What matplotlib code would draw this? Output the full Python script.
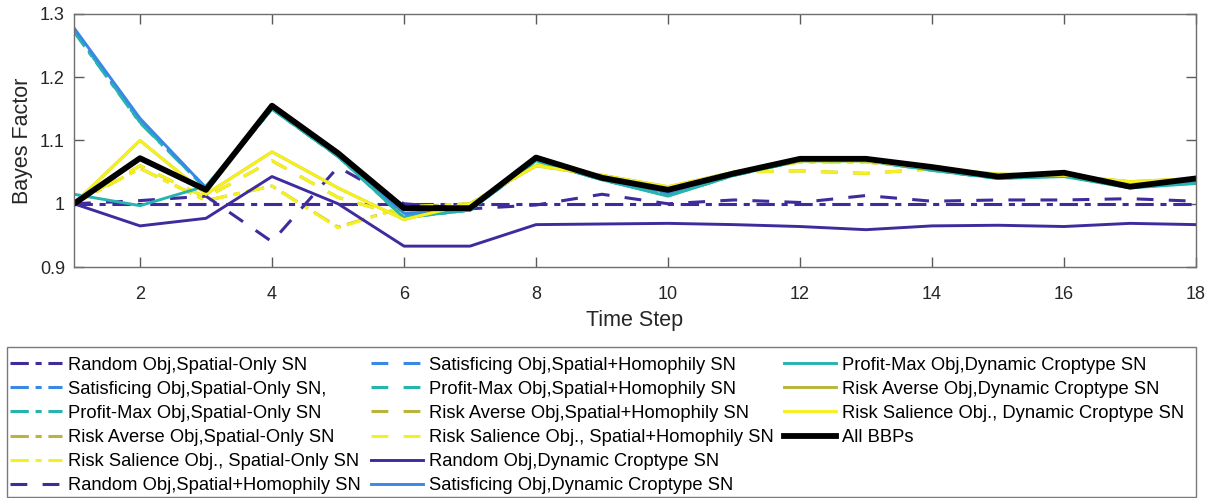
import matplotlib
matplotlib.use('Agg')
import matplotlib.pyplot as plt
from matplotlib.lines import Line2D
from matplotlib.patches import Rectangle
import numpy as np

plt.rcParams['font.family'] = ['Liberation Sans', 'DejaVu Sans']

# time steps
steps = np.arange(1, 19)

# Spatial-Only social network
random_so = [1.000, 1.000, 1.000, 1.000, 1.000, 1.000, 1.000, 1.000, 1.000,
             1.000, 1.000, 1.000, 1.000, 1.000, 1.000, 1.000, 1.000, 1.000]
satisf_so = [1.275, 1.130, 1.025, 1.150, 1.075, 0.980, 0.990, 1.070, 1.040,
             1.015, 1.047, 1.070, 1.070, 1.055, 1.042, 1.046, 1.027, 1.035]
profit_so = [1.272, 1.128, 1.024, 1.150, 1.075, 0.978, 0.990, 1.068, 1.038,
             1.013, 1.045, 1.068, 1.068, 1.053, 1.040, 1.044, 1.026, 1.033]
averse_so = [1.000, 1.056, 1.005, 1.028, 0.963, 0.995, 1.000, 1.060, 1.045,
             1.025, 1.050, 1.066, 1.066, 1.055, 1.045, 1.045, 1.033, 1.040]
salien_so = [1.000, 1.056, 1.005, 1.028, 0.962, 0.995, 1.000, 1.060, 1.045,
             1.025, 1.050, 1.066, 1.066, 1.055, 1.045, 1.045, 1.033, 1.040]

# Spatial+Homophily social network
random_sh = [1.000, 1.005, 1.012, 0.940, 1.058, 1.000, 0.992, 0.998, 1.015,
             1.000, 1.006, 1.002, 1.013, 1.004, 1.006, 1.006, 1.008, 1.004]
satisf_sh = [1.276, 1.132, 1.025, 1.151, 1.076, 0.982, 0.990, 1.070, 1.040,
             1.016, 1.047, 1.070, 1.070, 1.055, 1.042, 1.046, 1.027, 1.036]
profit_sh = [1.273, 1.129, 1.024, 1.150, 1.075, 0.979, 0.990, 1.068, 1.038,
             1.013, 1.045, 1.068, 1.068, 1.053, 1.040, 1.044, 1.026, 1.033]
averse_sh = [1.000, 1.060, 1.010, 1.068, 1.010, 0.980, 1.000, 1.062, 1.043,
             1.024, 1.050, 1.052, 1.048, 1.055, 1.045, 1.046, 1.030, 1.040]
salien_sh = [1.000, 1.060, 1.010, 1.068, 1.010, 0.980, 1.000, 1.062, 1.043,
             1.024, 1.050, 1.052, 1.048, 1.055, 1.045, 1.046, 1.030, 1.040]

# Dynamic Croptype social network
random_dc = [1.000, 0.965, 0.977, 1.043, 1.000, 0.933, 0.933, 0.967, 0.968,
             0.969, 0.967, 0.964, 0.959, 0.965, 0.966, 0.964, 0.969, 0.967]
satisf_dc = [1.278, 1.135, 1.025, 1.152, 1.078, 0.985, 0.990, 1.070, 1.040,
             1.018, 1.047, 1.070, 1.070, 1.056, 1.042, 1.047, 1.027, 1.037]
profit_dc = [1.015, 0.997, 1.028, 1.150, 1.075, 0.978, 0.990, 1.068, 1.038,
             1.012, 1.045, 1.068, 1.068, 1.053, 1.040, 1.043, 1.025, 1.032]
averse_dc = [1.000, 1.100, 1.015, 1.082, 1.025, 0.975, 1.000, 1.060, 1.045,
             1.027, 1.050, 1.068, 1.068, 1.056, 1.047, 1.045, 1.035, 1.040]
salien_dc = [1.000, 1.100, 1.015, 1.082, 1.025, 0.975, 1.000, 1.060, 1.045,
             1.027, 1.050, 1.068, 1.068, 1.056, 1.047, 1.045, 1.035, 1.040]

all_bbps = [1.000, 1.072, 1.022, 1.155, 1.080, 0.993, 0.993, 1.073, 1.041,
            1.022, 1.048, 1.071, 1.071, 1.058, 1.043, 1.049, 1.027, 1.040]

c_random = '#3f2a9e'
c_satisf = '#3a88e6'
c_profit = '#27b4ae'
c_averse = '#bbb43c'
c_salien = '#f5f01e'

series = [
    (random_so, c_random, '-.', 2.2, 'Random Obj,Spatial-Only SN'),
    (satisf_so, c_satisf, '-.', 2.2, 'Satisficing Obj,Spatial-Only SN,'),
    (profit_so, c_profit, '-.', 2.2, 'Profit-Max Obj,Spatial-Only SN'),
    (averse_so, c_averse, '-.', 2.2, 'Risk Averse Obj,Spatial-Only SN'),
    (salien_so, c_salien, '-.', 2.2, 'Risk Salience Obj., Spatial-Only SN'),
    (random_sh, c_random, '--', 2.2, 'Random Obj,Spatial+Homophily SN'),
    (satisf_sh, c_satisf, '--', 2.2, 'Satisficing Obj,Spatial+Homophily SN'),
    (profit_sh, c_profit, '--', 2.2, 'Profit-Max Obj,Spatial+Homophily SN'),
    (averse_sh, c_averse, '--', 2.2, 'Risk Averse Obj,Spatial+Homophily SN'),
    (salien_sh, c_salien, '--', 2.2, 'Risk Salience Obj., Spatial+Homophily SN'),
    (random_dc, c_random, '-', 2.1, 'Random Obj,Dynamic Croptype SN'),
    (satisf_dc, c_satisf, '-', 2.1, 'Satisficing Obj,Dynamic Croptype SN'),
    (profit_dc, c_profit, '-', 2.1, 'Profit-Max Obj,Dynamic Croptype SN'),
    (averse_dc, c_averse, '-', 2.1, 'Risk Averse Obj,Dynamic Croptype SN'),
    (salien_dc, c_salien, '-', 2.1, 'Risk Salience Obj., Dynamic Croptype SN'),
    (all_bbps, 'black', '-', 4.2, 'All BBPs'),
]

W, H = 1216, 498
fig = plt.figure(figsize=(W / 100, H / 100), dpi=100)
ax = fig.add_axes([74 / W, 1 - 267 / H, 1122 / W, 253 / H])

handles = []
labels = []
for vals, col, ls, lw, name in series:
    if ls == '--':
        ln, = ax.plot(steps, vals, color=col, lw=lw, linestyle=(0, (5.5, 5)))
    elif ls == '-.':
        ln, = ax.plot(steps, vals, color=col, lw=lw, linestyle=(0, (6, 2.2, 2, 2.2)))
    else:
        ln, = ax.plot(steps, vals, color=col, lw=lw, linestyle='-')
    handles.append(ln)
    labels.append(name)

ax.set_xlim(1, 18)
ax.set_ylim(0.9, 1.3)
ax.set_xticks(np.arange(2, 19, 2))
ax.set_yticks([0.9, 1.0, 1.1, 1.2, 1.3])
ax.set_yticklabels(['0.9', '1', '1.1', '1.2', '1.3'])
ax.tick_params(direction='in', length=7, width=1, top=True, right=True,
               labelsize=13, colors='#5a5a5a', labelcolor='#262626')
ax.tick_params(axis='x', pad=13.5)
ax.tick_params(axis='y', pad=6.5)
for sp in ax.spines.values():
    sp.set_color('#6e6e6e')
    sp.set_linewidth(1)
ax.set_xlabel('Time Step', fontsize=15.5, color='#262626', labelpad=5)
ax.set_ylabel('Bayes Factor', fontsize=15.5, color='#262626', labelpad=5)

# two blank slots so the third column holds four entries
blank = Line2D([], [], color='none')
handles += [blank, blank]
labels += ['', '']

# legend box drawn separately so the entries can sit inside it freely
fig.patches.append(Rectangle((7 / W, 1 / H), 1189 / W, 150 / H,
                             transform=fig.transFigure, facecolor='white',
                             edgecolor='#7a7a7a', linewidth=1, zorder=0))

fig.legend(handles, labels, ncol=3, loc='upper left',
           bbox_to_anchor=(7 / W, 1 - 354 / H), borderaxespad=0,
           fontsize=13.2, frameon=False,
           handlelength=2.85, handletextpad=0.33, columnspacing=0.55,
           labelspacing=0.385, borderpad=0.15)

fig.savefig('out.png', dpi=100)
